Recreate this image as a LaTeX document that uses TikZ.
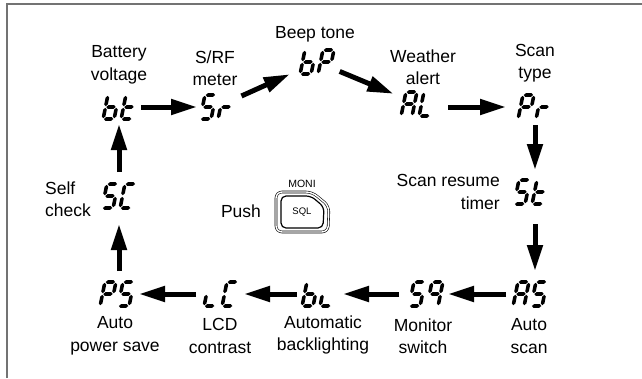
\documentclass[tikz,border=0pt]{standalone}
\usepackage{fontspec}
\setmainfont{Liberation Sans}
\usetikzlibrary{arrows.meta}
\tikzset{
  disp/.style={rectangle, minimum width=38pt, minimum height=26pt, inner sep=0pt, outer sep=0pt},
  lbl/.style={align=center, font=\fontsize{17.5}{22.5}\selectfont, inner sep=0pt},
  arr/.style={line width=5pt, -{Triangle[length=26pt,width=15pt]}},
  frame/.style={draw=black!55, line width=2pt},
}
\newcommand\lcdsega{\fill (0.8,24) -- (2.6,25.8) -- (8.4,25.8) -- (10.2,24) -- (8.4,22.2) -- (2.6,22.2) -- cycle;}
\newcommand\lcdsegg{\fill (0.8,12) -- (2.6,13.8) -- (8.4,13.8) -- (10.2,12) -- (8.4,10.2) -- (2.6,10.2) -- cycle;}
\newcommand\lcdsegd{\fill (0.8,0) -- (2.6,1.8) -- (8.4,1.8) -- (10.2,0) -- (8.4,-1.8) -- (2.6,-1.8) -- cycle;}
\newcommand\lcdsegf{\fill (0,12.8) -- (1.8,14.6) -- (1.8,21.4) -- (0,23.2) -- (-1.8,21.4) -- (-1.8,14.6) -- cycle;}
\newcommand\lcdsege{\fill (0,0.8) -- (1.8,2.6) -- (1.8,9.4) -- (0,11.2) -- (-1.8,9.4) -- (-1.8,2.6) -- cycle;}
\newcommand\lcdsegb{\fill (11,12.8) -- (12.8,14.6) -- (12.8,21.4) -- (11,23.2) -- (9.2,21.4) -- (9.2,14.6) -- cycle;}
\newcommand\lcdsegc{\fill (11,0.8) -- (12.8,2.6) -- (12.8,9.4) -- (11,11.2) -- (9.2,9.4) -- (9.2,2.6) -- cycle;}
\newcommand\lcd[5]{%
  \node[disp] (#1) at (#2,#3) {};
  \begin{scope}[shift={(#2-16.9,#3+12)}, xslant=0.2, yscale=-1]
    \foreach \s in {#4}{\csname lcdseg\s\endcsname}
    \begin{scope}[shift={(18,0)}]
      \foreach \s in {#5}{\csname lcdseg\s\endcsname}
    \end{scope}
  \end{scope}}
\begin{document}
\begin{tikzpicture}[x=1pt, y=-1pt]
\useasboundingbox (0,0) rectangle (642,378);
\draw[frame] (7,378) -- (7,4) -- (642,4);

% displays
\lcd{bt}{120}{107}{c,d,e,f,g}{d,e,f,g}
\lcd{Sr}{217}{107}{a,f,g,c,d}{e,g}
\lcd{bP}{317}{62}{c,d,e,f,g}{a,b,f,g,e}
\lcd{AL}{418}{104}{a,b,c,e,f,g}{d,e,f}
\lcd{Pr}{535}{107}{a,b,f,g,e}{e,g}
\lcd{St}{531}{192}{a,f,g,c,d}{d,e,f,g}
\lcd{AS}{530}{294}{a,b,c,e,f,g}{a,f,g,c,d}
\lcd{sq}{426}{294}{a,f,g,c,d}{a,b,c,f,g}
\lcd{bL}{319}{294}{c,d,e,f,g}{d,e}
\lcd{LC}{221}{294}{d,e}{a,d,e,f}
\lcd{PS}{117}{294}{a,b,f,g,e}{a,f,g,c,d}
\lcd{SC}{119}{196}{a,f,g,c,d}{a,d,e,f}

% labels
\node[lbl] (lbt) at (119,65) {Battery\\voltage};
\node[lbl] (lSr) at (215,68) {S/RF\\meter};
\node[lbl] (lbP) at (315,34) {Beep tone};
\node[lbl] (lAL) at (423,67) {Weather\\alert};
\node[lbl] (lPr) at (535,63) {Scan\\type};
\node[lbl, align=right, anchor=east] (lSt) at (500,192) {Scan resume\\timer};
\node[lbl, align=left, anchor=west] (lSC) at (45,199) {Self\\check};
\node[lbl] (lPS) at (115,336) {Auto\\power save};
\node[lbl] (lLC) at (220,336) {LCD\\contrast};
\node[lbl] (lbL) at (323,335) {Automatic\\backlighting};
\node[lbl] (lsq) at (423,336) {Monitor\\switch};
\node[lbl] (lAS) at (529,336) {Auto\\scan};

% push button
\node[lbl] (push) at (241,211) {Push};
\node[font=\fontsize{10.5}{12}\selectfont, inner sep=0pt] (moni) at (302,184) {MONI};
\draw[line width=0.6pt, double, double distance=1.4pt, rounded corners=6pt]
  (276,212) -- (276,192) -- (312,192) -- (329,206) -- (328,232) -- (276,232) -- cycle;
\draw[line width=1.2pt, rounded corners=5pt]
  (281,212) -- (281,196) -- (311,196) -- (324,207) -- (323,228) -- (281,228) -- cycle;
\node[font=\fontsize{9.5}{10}\selectfont, inner sep=0pt] (sql) at (302,212) {SQL};

% arrows
\draw[arr, shorten <=2pt, shorten >=1pt] (bt) -- (Sr);
\draw[arr, shorten <=6pt, shorten >=9pt] (Sr) -- (bP);
\draw[arr, shorten <=4pt, shorten >=6pt] (bP) -- (AL);
\draw[arr, shorten <=11pt, shorten >=10pt] (AL.east |- Pr.west) -- (Pr.west);
\draw[arr, shorten <=5pt, shorten >=9pt] (Pr.south) -- (Pr.south |- St.north);
\draw[arr, shorten <=19pt, shorten >=10pt] (Pr.south |- St.south) -- (Pr.south |- AS.north);
\draw[arr, shorten <=5pt, shorten >=3pt] (AS) -- (sq);
\draw[arr, shorten <=8pt, shorten >=5pt] (sq) -- (bL);
\draw[arr, shorten <=3pt, shorten >=4pt] (bL) -- (LC);
\draw[arr, shorten <=6pt, shorten >=3pt] (LC) -- (PS);
\draw[arr, shorten <=10pt, shorten >=15pt] (SC.south |- PS.north) -- (SC.south);
\draw[arr, shorten <=11pt, shorten >=4pt] (SC.north) -- (SC.north |- bt.south);
\end{tikzpicture}
\end{document}
